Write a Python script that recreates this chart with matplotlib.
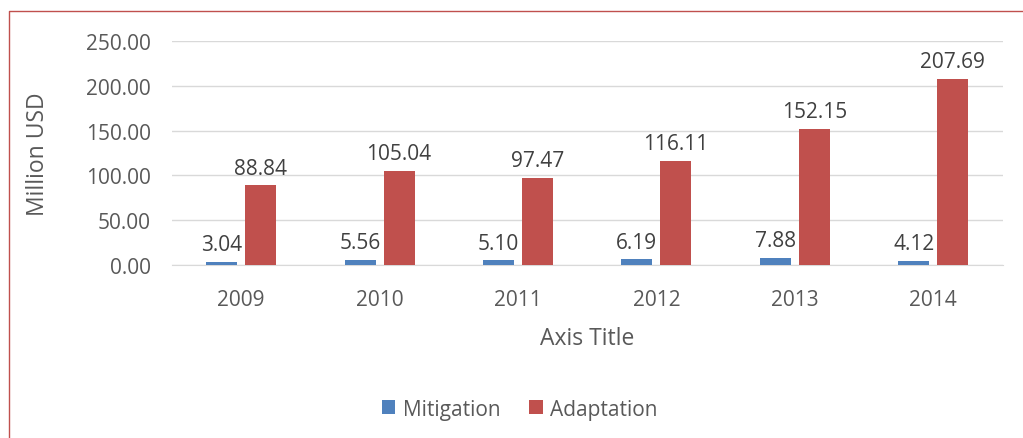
import numpy as np
import matplotlib.pyplot as plt
from matplotlib.lines import Line2D

# Data
years = ['2009', '2010', '2011', '2012', '2013', '2014']
mitigation = [3.04, 5.56, 5.10, 6.19, 7.88, 4.12]
adaptation = [88.84, 105.04, 97.47, 116.11, 152.15, 207.69]

plt.rcParams['font.family'] = ['Open Sans', 'DejaVu Sans']

fig = plt.figure(figsize=(10.23, 4.39), dpi=100)
ax = fig.add_axes([0.168, 0.394, 0.812, 0.510])

x = np.arange(len(years))
w = 0.224
off = 0.141
b1 = ax.bar(x - off, mitigation, w, color='#4F81BD', label='Mitigation', zorder=3)
b2 = ax.bar(x + off, adaptation, w, color='#C0504D', label='Adaptation', zorder=3)

for bars, vals in ((b1, mitigation), (b2, adaptation)):
    for rect, v in zip(bars, vals):
        ax.annotate(f'{v:.2f}', (rect.get_x() + rect.get_width() / 2, v),
                    xytext=(0, 5), textcoords='offset points',
                    ha='center', va='bottom', fontsize=15, color='#404040')

ax.set_xlim(-0.5, len(years) - 0.5)
ax.set_ylim(0, 250)
ax.set_yticks(np.arange(0, 251, 50))
ax.set_yticklabels([f'{v:.2f}' for v in np.arange(0, 251, 50)])
ax.set_xticks(x)
ax.set_xticklabels(years)
ax.tick_params(axis='both', length=0, labelsize=15, labelcolor='#595959')
ax.tick_params(axis='y', pad=15)
ax.tick_params(axis='x', pad=17)

ax.grid(axis='y', color='#D9D9D9', linewidth=1, zorder=0)
for s in ['top', 'right', 'left']:
    ax.spines[s].set_visible(False)
ax.spines['bottom'].set_color('#D9D9D9')

ax.set_ylabel('Million USD', fontsize=16.5, color='#595959', labelpad=26)
ax.set_xlabel('Axis Title', fontsize=16.5, color='#595959', labelpad=12)

fig.legend(loc='center', bbox_to_anchor=(0.508, 0.066), ncol=2, frameon=False,
           fontsize=15, labelcolor='#595959', handlelength=0.65, handleheight=0.65,
           handletextpad=0.35, columnspacing=1.4)

# red outer border (top and left edges visible)
fig.add_artist(Line2D([0.0088, 0.0088, 1.0], [0.0, 0.9727, 0.9727],
                      transform=fig.transFigure, color='#C0504D', linewidth=1))

fig.savefig('out.png', dpi=100)
